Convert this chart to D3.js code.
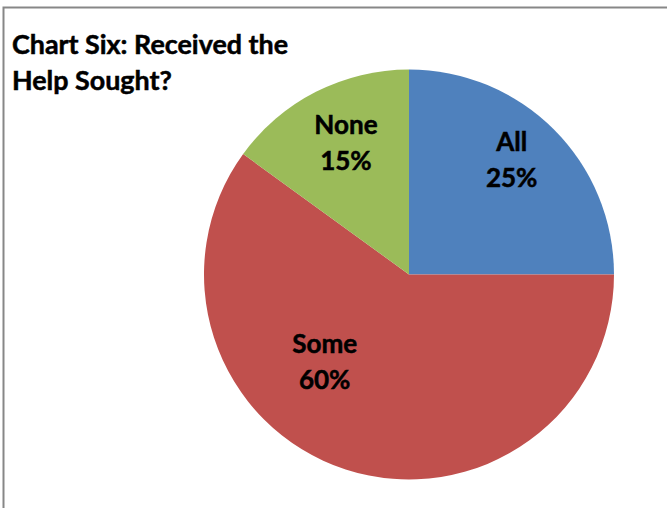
<!DOCTYPE html>
<html>
<head>
<meta charset="utf-8">
<script src="https://cdn.jsdelivr.net/npm/d3@7"></script>
<style>
  html, body { margin: 0; padding: 0; background: #fff; }
  svg { display: block; }
  text { font-family: "Lato", "Open Sans", sans-serif; font-weight: bold; fill: #000; stroke: #000; stroke-width: 0.5px; }
</style>
</head>
<body>
<svg id="chart" width="667" height="508"></svg>
<script>
// ---- data ----
const categories = ["All", "Some", "None"];
const values = [25, 60, 15];
const percentLabels = ["25%", "60%", "15%"];
const titleLines = ["Chart Six: Received the", "Help Sought?"];

// ---- layout ----
const W = 667, H = 508;
const cx = 409, cy = 274.5, R = 205;
const colors = { All: "#4F81BD", Some: "#C0504D", None: "#9BBB59" };
// label anchor in polar form: [angle in degrees clockwise from 12 o'clock, radius]
const labelPolar = { All: [44.3, 147], None: [332.8, 138], Some: [221.2, 128] };

const svg = d3.select("#chart");

// chart area border
svg.append("rect")
  .attr("x", 3.5).attr("y", 7.5)
  .attr("width", W + 20).attr("height", H + 20)
  .attr("fill", "none").attr("stroke", "#878787").attr("stroke-width", 2);

const data = categories.map((c, i) => ({ cat: c, value: values[i], pct: percentLabels[i] }));

const pie = d3.pie().sort(null).value(d => d.value);
const arc = d3.arc().innerRadius(0).outerRadius(R);

const g = svg.append("g").attr("transform", `translate(${cx},${cy})`);
g.selectAll("path.slice")
  .data(pie(data))
  .join("path")
  .attr("class", "slice")
  .attr("d", arc)
  .attr("fill", d => colors[d.data.cat]);

// title
const title = svg.append("g");
const t1 = title.append("text").attr("x", 12).attr("y", 54).attr("font-size", 28).text(titleLines[0]);
const w1 = t1.node().getComputedTextLength();
const titleSize = 28 * 276 / w1;
t1.attr("font-size", titleSize);
title.append("text").attr("x", 12).attr("y", 90).attr("font-size", titleSize).text(titleLines[1]);

// labels
const probe = svg.append("text").attr("font-size", 28).text("Some");
const labelSize = 28 * 65 / probe.node().getComputedTextLength();
probe.remove();

const labels = g.selectAll("g.lbl")
  .data(pie(data))
  .join("g")
  .attr("class", "lbl")
  .attr("transform", d => {
    const [ang, r] = labelPolar[d.data.cat];
    const a = ang * Math.PI / 180;
    return `translate(${r * Math.sin(a)},${-r * Math.cos(a)})`;
  });
labels.append("text").attr("text-anchor", "middle").attr("y", -18)
  .attr("font-size", labelSize).text(d => d.data.cat);
labels.append("text").attr("text-anchor", "middle").attr("y", 18)
  .attr("font-size", labelSize).text(d => d.data.pct);
</script>
</body>
</html>
